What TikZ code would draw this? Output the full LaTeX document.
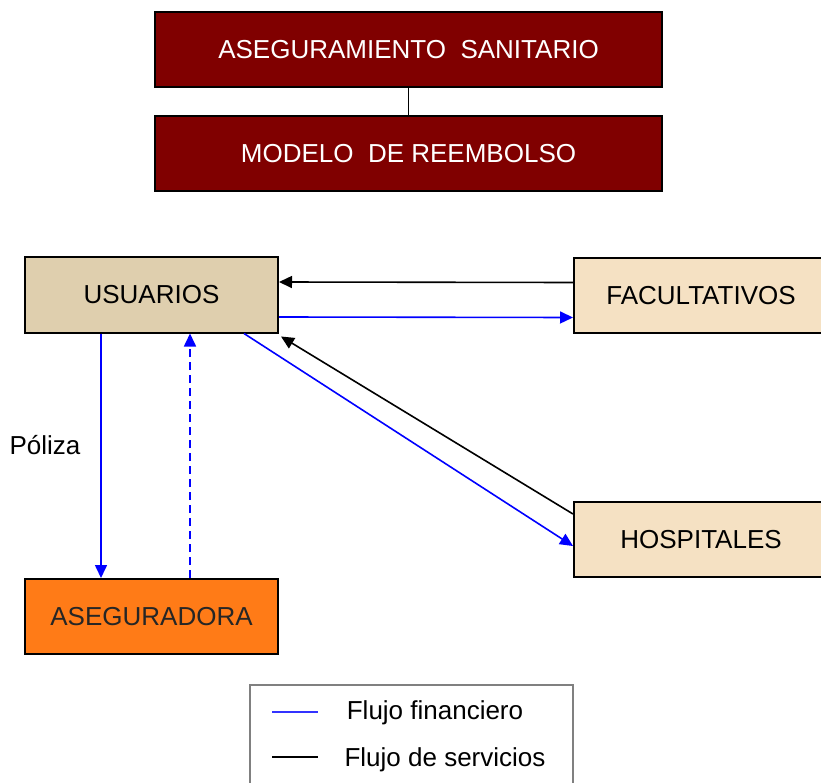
\documentclass[tikz,border=0pt]{standalone}
\usepackage{fontspec}
\setmainfont{Liberation Sans}
\usetikzlibrary{arrows.meta}
\definecolor{darkred}{HTML}{800000}
\definecolor{usucol}{HTML}{DFCFAE}
\definecolor{faccol}{HTML}{F5E1C3}
\definecolor{asecol}{HTML}{FF7B17}
\definecolor{fblue}{HTML}{0000FF}
\begin{document}
\begin{tikzpicture}[x=1pt,y=-1pt,
  txt/.style={font=\fontsize{26}{31}\selectfont},
  box/.style={draw=black,line width=2pt,inner sep=0pt,txt},
  topbox/.style={box,fill=darkred,text=white,minimum width=507pt,minimum height=75pt},
  midbox/.style={box,minimum width=253pt,minimum height=75pt},
  fin/.style={draw=fblue,line width=1.6pt,-{Triangle[length=13pt,width=12pt]}},
  serv/.style={draw=black,line width=1.6pt,-{Triangle[length=13pt,width=12pt]}},
  finleg/.style={draw=fblue!80,line width=1.6pt},
  servleg/.style={draw=black,line width=1.6pt}]
\useasboundingbox (0,0) rectangle (821,783);
\clip (0,0) rectangle (821,783);

\node[topbox] (ase1) at (408.5,49.5) {ASEGURAMIENTO\ \ SANITARIO};
\node[topbox] (mod) at (408.5,153.5) {MODELO\ \ DE REEMBOLSO};
\draw[line width=1.6pt] (ase1.south) -- (mod.north);

\node[midbox,fill=usucol] (usu) at (151.5,295) {USUARIOS};
\node[midbox,fill=faccol,minimum width=254pt] (fac) at (701,295.5) {FACULTATIVOS};
\node[midbox,fill=faccol,minimum width=254pt] (hosp) at (701,539.5) {HOSPITALES};
\node[midbox,fill=asecol,text=black!85] (aseg) at (151.5,616.5) {ASEGURADORA};

\draw[serv] ([yshift=13pt]fac.west) -- ([yshift=13pt]usu.east);
\draw[fin] ([yshift=-22pt]usu.east) -- ([yshift=-22pt]fac.west);
\draw[serv] ([yshift=25.5pt]hosp.west) -- ([xshift=2pt,yshift=-3pt]usu.south east);
\draw[fin] ([xshift=92.5pt]usu.south) -- ([yshift=-6.5pt]hosp.west);
\draw[fin] ([xshift=-50.5pt]usu.south) -- ([xshift=-50.5pt]aseg.north);
\draw[fin,dash pattern=on 8pt off 5pt] ([xshift=38.5pt]aseg.north) -- ([xshift=38.5pt]usu.south);

\node[txt] (pol) at (45,445) {Póliza};

\node[draw=black!50,line width=2pt,minimum width=323pt,minimum height=110pt,inner sep=0pt] (leg) at (411.5,740) {};
\coordinate (l1a) at (272,712);
\coordinate (l1b) at (318,712);
\coordinate (l2a) at (272,757);
\coordinate (l2b) at (318,757);
\draw[finleg] (l1a) -- (l1b);
\draw[servleg] (l2a) -- (l2b);
\node[txt] (t1) at (435,713) {Flujo financiero};
\node[txt] (t2) at (445,760) {Flujo de servicios};
\end{tikzpicture}
\end{document}
